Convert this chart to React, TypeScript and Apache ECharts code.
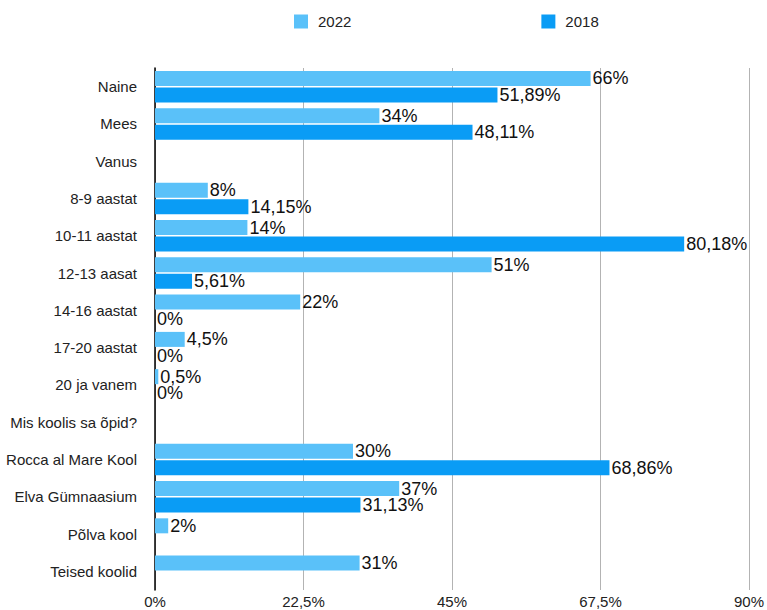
import React, { useEffect, useRef } from "react";
import * as echarts from "echarts";

const categories = [
  "Naine",
  "Mees",
  "Vanus",
  "8-9 aastat",
  "10-11 aastat",
  "12-13 aasat",
  "14-16 aastat",
  "17-20 aastat",
  "20 ja vanem",
  "Mis koolis sa õpid?",
  "Rocca al Mare Kool",
  "Elva Gümnaasium",
  "Põlva kool",
  "Teised koolid",
];

const values2022: (number | null)[] = [66, 34, null, 8, 14, 51, 22, 4.5, 0.5, null, 30, 37, 2, 31];
const values2018: (number | null)[] = [51.89, 48.11, null, 14.15, 80.18, 5.61, 0, 0, 0, null, 68.86, 31.13, null, null];

const seriesNames = ["2022", "2018"];
const colors = ["#5AC1F9", "#0A9CF5"];

const FONT = "'Liberation Sans', Arial, Helvetica, sans-serif";

const fmt = (v: number) => String(v).replace(".", ",") + "%";

export default function App() {
  const ref = useRef<HTMLDivElement>(null);
  useEffect(() => {
    if (!ref.current) return;
    const chart = echarts.init(ref.current, undefined, { renderer: "svg" });
    const mkSeries = (name: string, data: (number | null)[], color: string) => ({
      name,
      type: "bar",
      data,
      barWidth: 15,
      barGap: "10%",
      itemStyle: { color },
      label: {
        show: true,
        position: "right",
        distance: 2,
        color: "#111",
        fontSize: 18,
        fontFamily: FONT,
        formatter: (p: any) => (p.value === null || p.value === undefined ? "" : fmt(p.value)),
      },
    });
    chart.setOption({
      animation: false,
      textStyle: { fontFamily: FONT },
      legend: {
        left: 289,
        top: 9,
        itemWidth: 14,
        itemHeight: 14,
        itemGap: 190,
        icon: "rect",
        data: seriesNames,
        textStyle: { fontSize: 15, color: "#222", fontFamily: FONT, padding: [0, 0, 0, 5] },
      },
      grid: { left: 155, right: 18, top: 68, bottom: 20, containLabel: false },
      xAxis: {
        type: "value",
        min: 0,
        max: 90,
        interval: 22.5,
        axisLine: { show: false },
        axisTick: { show: false },
        splitLine: { show: true, lineStyle: { color: "#b3b3b3", width: 1 } },
        axisLabel: {
          fontSize: 15,
          color: "#222",
          fontFamily: FONT,
          margin: 4,
          formatter: (v: number) => fmt(v),
        },
      },
      yAxis: {
        type: "category",
        data: categories,
        inverse: true,
        axisTick: { show: false },
        axisLine: { show: true, lineStyle: { color: "#000", width: 1.5 } },
        axisLabel: { fontSize: 15, color: "#222", fontFamily: FONT, margin: 18 },
      },
      series: [
        mkSeries(seriesNames[0], values2022, colors[0]),
        mkSeries(seriesNames[1], values2018, colors[1]),
      ],
    });
    return () => chart.dispose();
  }, []);
  return <div ref={ref} style={{ width: 767, height: 610, position: "absolute", left: 0, top: 0 }} />;
}
